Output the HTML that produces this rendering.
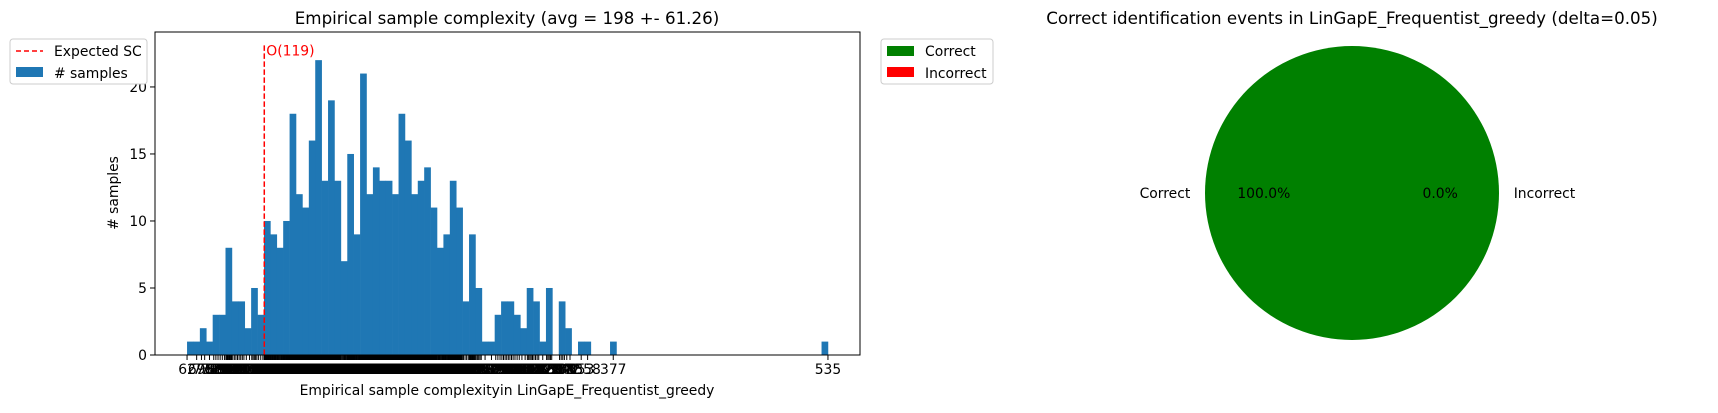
<!DOCTYPE html>
<html><head><meta charset="utf-8"><style>
body{margin:0;background:#fff;}
svg text{font-family:"DejaVu Sans","Liberation Sans",sans-serif;}
</style></head><body>
<svg id="c" width="1718" height="408" xmlns="http://www.w3.org/2000/svg">
<text x="507" y="24" font-size="16.7" text-anchor="middle">Empirical sample complexity (avg = 198 +- 61.26)</text>
<text x="507" y="395" font-size="13.9" text-anchor="middle">Empirical sample complexityin LinGapE_Frequentist_greedy</text>
<text x="0" y="0" font-size="13.9" text-anchor="middle" transform="translate(118,193) rotate(-90)"># samples</text>
<g id="hist"></g>
<g>
<rect x="10" y="39" width="137" height="45" rx="3" fill="#fff" stroke="#ccc"/>
<line x1="16" y1="51" x2="43" y2="51" stroke="red" stroke-width="1.5" stroke-dasharray="5,3"/>
<text x="54" y="56" font-size="13.9">Expected SC</text>
<rect x="16" y="67" width="27" height="10" fill="#1f77b4"/>
<text x="54" y="78" font-size="13.9"># samples</text>
</g>
<g>
<rect x="881" y="39" width="112" height="45" rx="3" fill="#fff" stroke="#ccc"/>
<rect x="887" y="46" width="27" height="10" fill="green"/>
<text x="925" y="56" font-size="13.9">Correct</text>
<rect x="887" y="67" width="27" height="10" fill="red"/>
<text x="925" y="78" font-size="13.9">Incorrect</text>
</g>
<text x="1352" y="24" font-size="16.7" text-anchor="middle">Correct identification events in LinGapE_Frequentist_greedy (delta=0.05)</text>
<g id="pie"></g>
</svg>
<script>
const binCounts=[1,1,2,1,3,3,8,4,4,2,5,3,10,9,8,10,18,12,11,16,22,13,19,13,7,15,9,21,12,14,13,13,12,18,16,12,13,14,11,8,9,13,11,4,9,5,1,1,3,4,4,3,2,5,4,1,5,0,4,2,0,1,1,0,0,0,1,0,0,0,0,0,0,0,0,0,0,0,0,0,0,0,0,0,0,0,0,0,0,0,0,0,0,0,0,0,0,0,0,1];
const dataMin=62, dataMax=535;
const yTicks=[0,5,10,15,20];
const expectedSC=119;
const pieLabels=["Correct","Incorrect"];
const pieValues=[100,0];
const pieColors=["green","red"];

const NS="http://www.w3.org/2000/svg";
function mk(t,a,p){const e=document.createElementNS(NS,t);for(const k in a)e.setAttribute(k,a[k]);p.appendChild(e);return e;}
const L=155,R=860,T=32,B=355;
const span=dataMax-dataMin, pad=span*0.05;
const xs=v=>L+(v-(dataMin-pad))/(span+2*pad)*(R-L);
const yMax=24.1;
const ys=v=>B-v/yMax*(B-T);
const g=document.getElementById('hist');
const bw=span/binCounts.length;
binCounts.forEach((c,i)=>{
  if(c<=0)return;
  const r=mk('rect',{x:xs(dataMin+i*bw),y:ys(c),width:xs(dataMin+(i+1)*bw)-xs(dataMin+i*bw)+0.3,height:B-ys(c),fill:'#1f77b4'},g);
  
  
});
const tg=mk('g',{},g);


binCounts.forEach((c,i)=>{
  for(let j=0;j<c;j++){
    const v=dataMin+i*bw+(c===1?(i===0?0:(i===binCounts.length-1?bw:0.5*bw)):(j+0.5)/c*bw);
    const x=xs(v);
    mk('line',{x1:x,y1:B,x2:x,y2:B+5,stroke:'#000','stroke-width':1},tg);
    const t=mk('text',{x:x,y:B+19,'font-size':13.9,'text-anchor':'middle'},tg);
    t.textContent=Math.round(v);
  }
});
yTicks.forEach(v=>{
  mk('line',{x1:L-5,y1:ys(v),x2:L,y2:ys(v),stroke:'#000'},g);
  const t=mk('text',{x:L-8,y:ys(v)+5,'font-size':13.9,'text-anchor':'end'},g);
  
  
  t.textContent=v;
});
const ex=xs(expectedSC);
const dl=mk('line',{x1:ex,y1:ys(23.1),x2:ex,y2:B,stroke:'red','stroke-width':1.5,'stroke-dasharray':'5.5,2.5'},g);


const et=mk('text',{x:ex+2,y:ys(23.1)+10,'font-size':13.9,fill:'red'},g);


et.textContent='O('+expectedSC+')';
mk('rect',{x:L,y:T,width:R-L,height:B-T,fill:'none',stroke:'#000','stroke-width':1},g);

const pg=document.getElementById('pie');
const cx=1352,cy=193,rad=147;
const tot=pieValues.reduce((a,b)=>a+b,0);
let ang=0;
pieValues.forEach((v,i)=>{
  const frac=v/tot;
  let el;
  if(frac>=0.9999){el=mk('circle',{cx:cx,cy:cy,r:rad,fill:pieColors[i]},pg);}
  else if(frac>0){
    const a0=ang*2*Math.PI,a1=(ang+frac)*2*Math.PI;
    el=mk('path',{d:`M${cx},${cy}L${cx+rad*Math.cos(a0)},${cy-rad*Math.sin(a0)}A${rad},${rad} 0 ${frac>0.5?1:0} 0 ${cx+rad*Math.cos(a1)},${cy-rad*Math.sin(a1)}Z`,fill:pieColors[i]},pg);
  }
  if(el){}
  const mid=(ang+frac/2)*2*Math.PI;
  const lx=cx+rad*1.1*Math.cos(mid), px=cx+rad*0.6*Math.cos(mid);
  const lt=mk('text',{x:lx,y:cy+5,'font-size':13.9,'text-anchor':Math.cos(mid)<0?'end':'start'},pg);
  
  
  lt.textContent=pieLabels[i];
  const pt=mk('text',{x:px,y:cy+5,'font-size':13.9,'text-anchor':'middle'},pg);
  
  
  pt.textContent=v.toFixed(1)+'%';
  ang+=frac;
});
</script>
</body></html>
